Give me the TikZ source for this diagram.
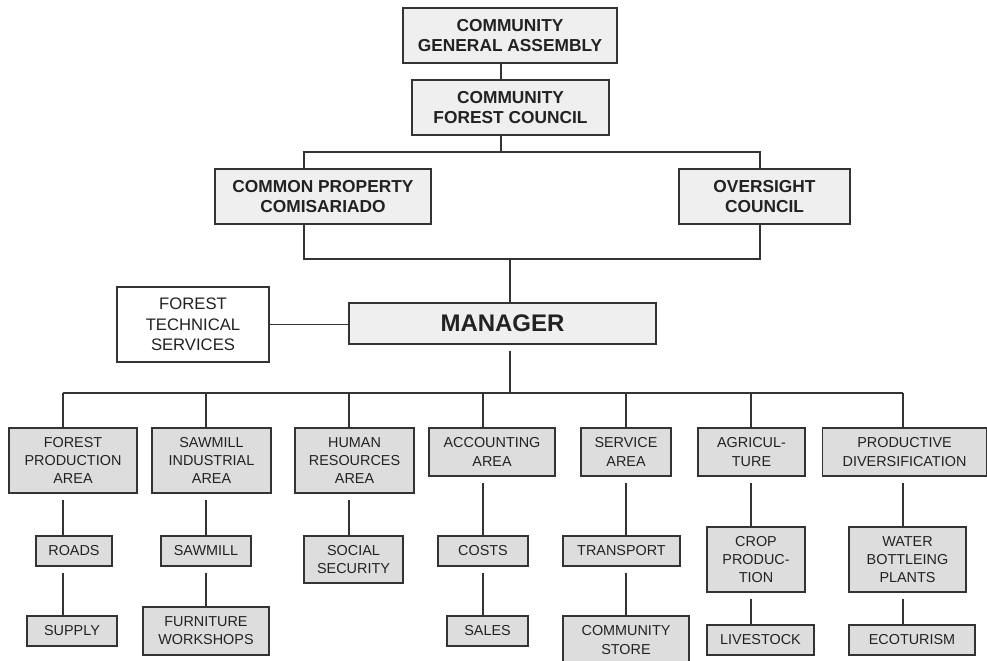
\documentclass[tikz,border=0pt]{standalone}
\usepackage{fontspec}
\setmainfont{Liberation Sans}
\definecolor{linec}{HTML}{333333}
\definecolor{textc}{HTML}{222222}
\definecolor{boxhi}{HTML}{EFEFEF}
\definecolor{boxlo}{HTML}{DDDDDD}
\newdimen\px \px=0.75pt

\begin{document}
\begin{tikzpicture}
[x=0.75pt,y=-0.75pt,%
  every node/.style={draw=linec,line width=1pt,inner sep=0pt,align=center,text=textc},%
  board/.style={fill=boxhi,font=\bfseries\fontsize{13}{15.5}\selectfont},%
  unit/.style={fill=boxlo,font=\fontsize{10.8}{13.6}\selectfont},%
  link/.style={draw=linec,line width=1pt},%
  down/.style={link,shorten <=6\px}]
\useasboundingbox (0,0) rectangle (987,660);

% governing bodies
\node[board,minimum width=214\px,minimum height=55\px] (asm) at (510,35.5) {COMMUNITY\\GENERAL ASSEMBLY};
\node[board,minimum width=197\px,minimum height=55\px] (cfc) at (510.5,107.5) {COMMUNITY\\FOREST COUNCIL};
\node[board,minimum width=216\px,minimum height=55\px] (cpc) at (323,196.5) {COMMON PROPERTY\\COMISARIADO};
\node[board,minimum width=171\px,minimum height=55\px] (ovs) at (764.5,196.5) {OVERSIGHT\\COUNCIL};
\node[fill=white,font=\fontsize{12.5}{15.5}\selectfont,minimum width=152\px,minimum height=75\px] (fts) at (193,324.5) {FOREST\\TECHNICAL\\SERVICES};
\node[fill=boxhi,font=\bfseries\fontsize{18}{20}\selectfont,minimum width=307\px,minimum height=41\px] (mgr) at (502.5,323.5) {MANAGER};

% areas
\node[unit,minimum width=128\px,minimum height=65\px] (fpa) at (73,460.5) {FOREST\\PRODUCTION\\AREA};
\node[unit,minimum width=119\px,minimum height=65\px] (sia) at (211.5,460.5) {SAWMILL\\INDUSTRIAL\\AREA};
\node[unit,minimum width=119\px,minimum height=65\px] (hra) at (354.5,460.5) {HUMAN\\RESOURCES\\AREA};
\node[unit,minimum width=126\px,minimum height=48\px] (acc) at (492,452) {ACCOUNTING\\AREA};
\node[unit,minimum width=90\px,minimum height=48\px] (srv) at (626,452) {SERVICE\\AREA};
\node[unit,minimum width=107\px,minimum height=48\px] (agr) at (751.5,452) {AGRICUL-\\TURE};
\node[unit,minimum width=164\px,minimum height=48\px] (pdv) at (904.5,452) {PRODUCTIVE\\DIVERSIFICATION};

% sections
\node[unit,minimum width=76\px,minimum height=30\px] (roads) at (74,551) {ROADS};
\node[unit,minimum width=90\px,minimum height=30\px] (sawmill) at (206,551) {SAWMILL};
\node[unit,minimum width=99\px,minimum height=47\px] (socsec) at (353.5,559.5) {SOCIAL\\SECURITY};
\node[unit,minimum width=90\px,minimum height=30\px] (costs) at (483,551) {COSTS};
\node[unit,minimum width=117\px,minimum height=30\px] (transp) at (621.5,551) {TRANSPORT};
\node[unit,minimum width=98\px,minimum height=65\px] (crop) at (756,559.5) {CROP\\PRODUC-\\TION};
\node[unit,minimum width=117\px,minimum height=65\px] (water) at (907.5,559.5) {WATER\\BOTTLEING\\PLANTS};

\node[unit,minimum width=90\px,minimum height=30\px] (supply) at (72,631) {SUPPLY};
\node[unit,minimum width=126\px,minimum height=48\px] (furn) at (206,631) {FURNITURE\\WORKSHOPS};
\node[unit,minimum width=81\px,minimum height=30\px] (sales) at (487.5,631) {SALES};
\node[unit,minimum width=126\px,minimum height=48\px] (store) at (626,640) {COMMUNITY\\STORE};
\node[unit,minimum width=107\px,minimum height=30\px] (lstock) at (760.5,640) {LIVESTOCK};
\node[unit,minimum width=126\px,minimum height=30\px] (eco) at (912,640) {ECOTURISM};

% rails and columns
\coordinate (railA) at (0,152);
\coordinate (railB) at (0,259);
\coordinate (railC) at (0,393);
\coordinate (c0) at (501,0);
\coordinate (cl) at (304,0);
\coordinate (cr) at (760,0);
\coordinate (cm) at (510,0);
\coordinate (c1) at (63,0);
\coordinate (c2) at (206,0);
\coordinate (c3) at (349,0);
\coordinate (c4) at (483,0);
\coordinate (c5) at (626,0);
\coordinate (c6) at (751,0);
\coordinate (c7) at (903,0);

\draw[link] (asm.south -| c0) -- (cfc.north -| c0);
\draw[link] (cfc.south -| c0) -- (c0 |- railA);
\draw[link] (cpc.north -| cl) -- (cl |- railA) -- (cr |- railA) -- (ovs.north -| cr);
\draw[link] (cpc.south -| cl) -- (cl |- railB) -- (cr |- railB) -- (ovs.south -| cr);
\draw[link] (cm |- railB) -- (mgr.north -| cm);
\draw[link] (fts.east) -- (fts.east -| mgr.west);
\draw[down] (mgr.south -| cm) -- (cm |- railC);
\draw[link] (c1 |- railC) -- (c7 |- railC);

\foreach \n/\c in {fpa/c1,sia/c2,hra/c3,acc/c4,srv/c5,agr/c6,pdv/c7}
  \draw[link] (\c |- railC) -- (\n.north -| \c);

\foreach \a/\b/\c in {fpa/roads/c1,roads/supply/c1,sia/sawmill/c2,sawmill/furn/c2,
    hra/socsec/c3,acc/costs/c4,costs/sales/c4,srv/transp/c5,transp/store/c5,
    agr/crop/c6,crop/lstock/c6,pdv/water/c7,water/eco/c7}
  \draw[down] (\a.south -| \c) -- (\b.north -| \c);
\end{tikzpicture}
\end{document}
